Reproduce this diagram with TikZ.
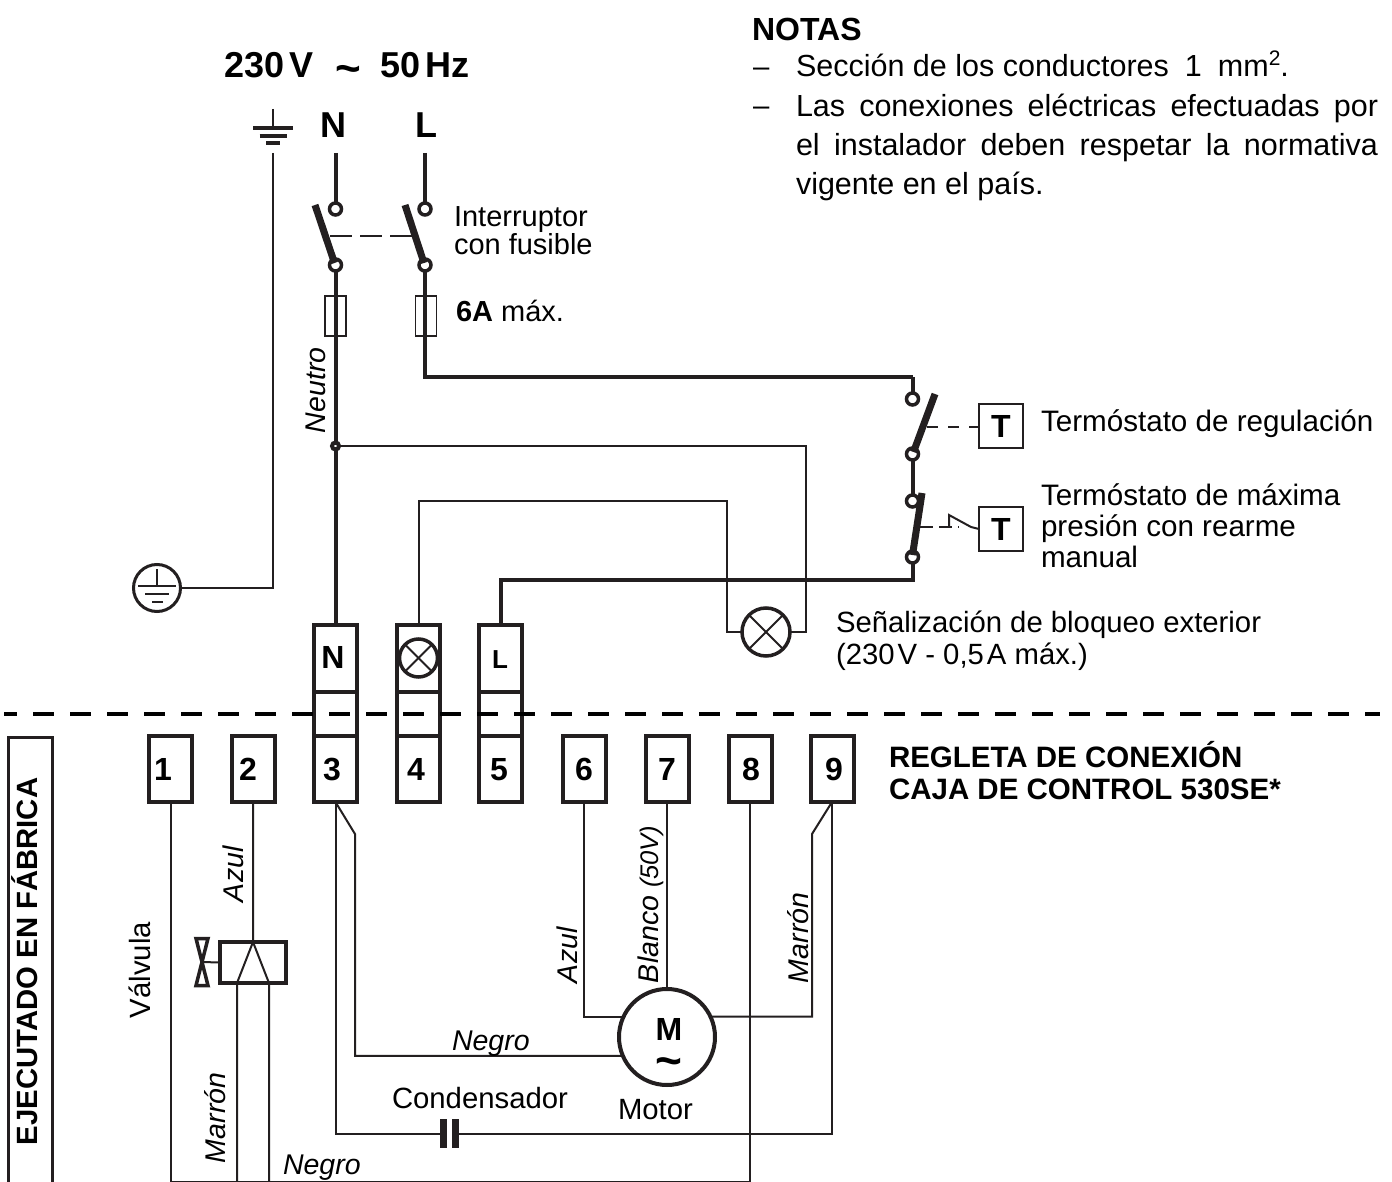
\documentclass[tikz,border=0pt]{standalone}
\usepackage{fontspec}
\setmainfont{Liberation Sans}
\usetikzlibrary{calc}
\definecolor{ink}{HTML}{231F20}
\tikzset{
	mainwire/.style={line width=4pt, color=ink},
	thinwire/.style={line width=2pt, color=ink},
	hairwire/.style={line width=1.8pt, color=ink},
	blade/.style={line width=7pt, color=ink},
	termbox/.style={draw=ink, line width=4pt, minimum width=43pt, minimum height=66pt, inner sep=0pt, outer sep=0pt},
	contact/.style={circle, draw=ink, fill=white, line width=3.5pt, minimum size=12pt, inner sep=0pt, outer sep=0pt},
	fuse/.style={draw=ink, line width=1.6pt, minimum width=21pt, minimum height=40pt, inner sep=0pt, outer sep=0pt},
	tbox/.style={draw=ink, line width=2pt, minimum size=44pt, inner sep=0pt, outer sep=0pt},
	lamp/.style={circle, draw=ink, line width=3.5pt, inner sep=0pt, outer sep=0pt, path picture={
		\draw[thinwire] (path picture bounding box.north west) -- (path picture bounding box.south east);
		\draw[thinwire] (path picture bounding box.north east) -- (path picture bounding box.south west);}},
	caplate/.style={fill=ink, minimum width=7pt, minimum height=29pt, inner sep=0pt, outer sep=0pt},
	txt/.style={inner sep=0pt, outer sep=0pt, anchor=base west, font=\fontsize{29.3}{31}\selectfont},
	boldtxt/.style={txt, font=\fontsize{29.5}{32}\selectfont\bfseries},
	bigtxt/.style={inner sep=0pt, outer sep=0pt, anchor=base, font=\fontsize{36}{38}\selectfont\bfseries},
	cabletxt/.style={txt, font=\fontsize{28.5}{31}\selectfont\itshape},
	digit/.style={inner sep=0pt, outer sep=0pt, anchor=base, font=\fontsize{32}{34}\selectfont\bfseries},
}
\begin{document}
\begin{tikzpicture}[x=1pt, y=-1pt]
	\useasboundingbox (0, 0) rectangle (1392, 1182);

	%%%%% supply %%%%%
	\node[bigtxt, anchor=base west] (supply) at (224, 78) {230\kern5pt V\hspace{22pt}\raisebox{-6pt}{\fontsize{44}{44}\selectfont\textasciitilde}\hspace{20pt}50\kern5pt Hz};
	\node[bigtxt] (labN) at (333.5, 138) {N};
	\node[bigtxt] (labL) at (426, 138) {L};

	%%%%% earth %%%%%
	\coordinate (earthtop) at (273, 109);
	\coordinate (earthbar) at (273, 128);
	\coordinate (earthwire) at (273, 153);
	\draw[line width=2.5pt, color=ink] (earthtop) -- (earthbar);
	\draw[line width=3.5pt, color=ink] ($(earthbar)+(-20, 0)$) -- ($(earthbar)+(20, 0)$);
	\draw[line width=3.5pt, color=ink] ($(earthbar)+(-13.5, 8)$) -- ($(earthbar)+(13.5, 8)$);
	\draw[line width=3.5pt, color=ink] ($(earthbar)+(-7, 15)$) -- ($(earthbar)+(7, 15)$);
	\node[circle, draw=ink, line width=3pt, minimum size=47pt, inner sep=0pt, outer sep=0pt] (pe) at (157, 588) {};
	\draw[hairwire] (157, 569) -- (157, 586);
	\draw[hairwire] (138, 586) -- (176, 586);
	\draw[hairwire] (145, 594) -- (169, 594);
	\draw[hairwire] (152, 602) -- (163, 602);
	\draw[thinwire] (earthwire) |- (pe.east);

	%%%%% terminals %%%%%
	\foreach \n/\xpos/\xtxt in {1/170.5/163, 2/253/248, 3/335.5/332, 4/418.5/416, 5/500.5/499, 6/584/584, 7/667/667, 8/750/751, 9/832/834} {
		\node[termbox] (t\n) at (\xpos, 769) {};
		\node[digit] (dig\n) at (\xtxt, 780) {\n};
	}
	\foreach \n/\xpos in {N/335.5, B/418.5, L/500.5} {
		\node[termbox, minimum height=67pt] (up\n) at (\xpos, 658.5) {};
		\node[termbox, minimum height=44pt] (mid\n) at (\xpos, 714) {};
	}
	\node[digit] (txtN) at (333, 668) {N};
	\node[digit, font=\fontsize{26}{28}\selectfont\bfseries] (txtL) at (500, 668) {L};
	\node[lamp, minimum size=38pt] (lampin) at (418.5, 658) {};

	%%%%% factory line %%%%%
	\coordinate (lineL) at (4, 714);
	\coordinate (lineR) at (1380, 714);
	\draw[line width=4pt, color=black, dash pattern=on 21pt off 16pt, dash phase=8pt] (lineL) -- (lineR);

	%%%%% main switch %%%%%
	\coordinate (ntop) at (335.5, 153);
	\coordinate (ltop) at (425, 153);
	\node[fuse] (fuseN) at (335.5, 316) {};
	\node[fuse] (fuseL) at (426, 316) {};
	\coordinate (bladeNtop) at (315, 205);
	\coordinate (bladeLtop) at (405, 205);
	\coordinate (linkN) at (330, 236);
	\coordinate (linkL) at (412, 236);
	\coordinate (cornerA) at (425, 377);
	\coordinate (cornerB) at (912.5, 377);
	\node[contact] (sNa) at (335.5, 209) {};
	\node[contact] (sNb) at (335.5, 265) {};
	\node[contact] (sLa) at (425, 209) {};
	\node[contact] (sLb) at (425, 265) {};
	\node[circle, draw=ink, fill=white, line width=4pt, minimum size=7pt, inner sep=0pt, outer sep=0pt] (jn) at (335.5, 446) {};
	\draw[mainwire] (ntop) -- (sNa);
	\draw[mainwire] (ltop) -- (sLa);
	\draw[mainwire] (sNb) -- (jn) -- (upN.north);
	\draw[mainwire] (sLb) -- (cornerA) -- (cornerB);
	\draw[blade] (bladeNtop) -- ($(sNb)+(-1, -2)$);
	\draw[blade] (bladeLtop) -- ($(sLb)+(-1, -2)$);
	\draw[thinwire, dash pattern=on 22pt off 8pt] (linkN) -- (linkL);

	%%%%% thermostats %%%%%
	\node[contact] (r1a) at (912.5, 399) {};
	\node[contact] (r1b) at (912.5, 454) {};
	\node[contact] (r2a) at (912.5, 501) {};
	\node[contact] (r2b) at (912.5, 557) {};
	\coordinate (cornerC) at (912.5, 580);
	\coordinate (cornerD) at (500.5, 580);
	\coordinate (blade1top) at (935, 394);
	\coordinate (blade2top) at (922, 493);
	\coordinate (link1) at (927, 427);
	\coordinate (link2) at (920, 527);
	\node[tbox] (tb1) at (1001, 426) {};
	\node[tbox] (tb2) at (1001, 529) {};
	\node[digit] (tt1) at (1001, 437) {T};
	\node[digit] (tt2) at (1001, 540) {T};
	\draw[mainwire] (cornerB) -- (r1a);
	\draw[mainwire] (r1b) -- (r2a);
	\draw[mainwire] (r2b) -- (cornerC) -- (cornerD) -- (upL.north);
	\draw[blade] (blade1top) -- ($(r1b)+(1, -2)$);
	\draw[blade] (blade2top) -- ($(r2b)+(0, -2)$);
	\draw[thinwire, dash pattern=on 11pt off 10pt] (link1) -- (link1 -| tb1.west);
	\draw[thinwire, dash pattern=on 13pt off 6pt] (link2) -- (959, 527);
	\draw[thinwire] (949, 527) -- (949, 515) -- (971, 527) -- (tb2.west);

	%%%%% signal lamp %%%%%
	\node[lamp, minimum size=48pt] (lampext) at (766, 632) {};
	\coordinate (lampA) at (806, 446);
	\coordinate (lampB) at (418.5, 501);
	\coordinate (lampC) at (727, 501);
	\draw[thinwire] (jn) -- (lampA) |- (lampext.east);
	\draw[thinwire] (upB.north) -- (lampB) -- (lampC) |- (lampext.west);

	%%%%% valve %%%%%
	\node[draw=ink, line width=4pt, minimum width=66pt, minimum height=41pt, inner sep=0pt, outer sep=0pt] (valve) at (253, 962.5) {};
	\coordinate (valveA) at (237, 983);
	\coordinate (valveB) at (269, 983);
	\coordinate (valveAbot) at (237, 1182);
	\coordinate (valveBbot) at (269, 1182);
	\coordinate (bowtie) at (202, 962);
	\draw[line width=3.5pt, color=ink] (196, 938.5) -- (208, 938.5) -- (196, 985.5) -- (208, 985.5) -- cycle;
	\draw[thinwire] (bowtie) -- (valve.west);
	\draw[thinwire] (t2.south) -- (valve.north) -- (valveA) -- (valveAbot);
	\draw[thinwire] (valve.north) -- (valveB) -- (valveBbot);

	%%%%% motor %%%%%
	\node[circle, draw=ink, line width=4pt, minimum size=96pt, inner sep=0pt, outer sep=0pt] (motor) at (667, 1037) {};
	\node[digit] (motM) at (669, 1040) {M};
	\node[inner sep=0pt, font=\fontsize{46}{46}\selectfont\bfseries] (motT) at (669, 1067) {\textasciitilde};
	\node[caplate] (capL) at (443.5, 1133.5) {};
	\node[caplate] (capR) at (455, 1133.5) {};
	\coordinate (bend3) at (355, 834);
	\coordinate (bend9) at (812, 834);
	\coordinate (bot8) at (750, 1182);
	\draw[thinwire] (t1.south) |- (bot8) -- (t8.south);
	\draw[thinwire] (t3.south) |- (capL.west);
	\draw[thinwire] (capR.east) -| (t9.south);
	\draw[thinwire] (t3.south) -- (bend3) |- (motor.203);
	\draw[thinwire] (t6.south) |- (motor.155);
	\draw[thinwire] (t7.south) -- (motor.north);
	\draw[thinwire] (t9.south) -- (bend9) |- (motor.25);

	%%%%% factory box %%%%%
	\coordinate (boxA) at (8, 1190);
	\coordinate (boxB) at (8, 737);
	\coordinate (boxC) at (52, 737);
	\coordinate (boxD) at (52, 1190);
	\draw[line width=3pt, color=ink] (boxA) -- (boxB) -- (boxC) -- (boxD);
	\node[boldtxt, font=\fontsize{29.3}{32}\selectfont\bfseries, rotate=90] (ejec) at (37.5, 1145) {EJECUTADO EN FÁBRICA};

	%%%%% texts %%%%%
	\node[boldtxt, font=\fontsize{32}{33}\selectfont\bfseries] (notas) at (752, 41) {NOTAS};
	\node[txt] (dash1) at (753, 77) {–};
	\node[txt] (dash2) at (753, 116) {–};
	\node[txt, font=\fontsize{30.5}{31}\selectfont] (nota1) at (796, 77) {Sección de los conductores\hspace{16pt}1\hspace{16pt}mm\raisebox{11pt}{\fontsize{21}{21}\selectfont 2}.};
	\node[txt, anchor=north west, text width=582pt, align=justify, font=\fontsize{30.5}{39}\selectfont] (nota2) at (796, 94) {Las conexiones eléctricas efectuadas por\linebreak el instalador deben respetar la normativa\linebreak vigente en el país.};
	\node[txt, anchor=north west, align=left, font=\fontsize{29}{28}\selectfont] (switchtxt) at (454, 207) {Interruptor\\con fusible};
	\node[txt, font=\fontsize{29}{31}\selectfont] (fusetxt) at (456, 321) {\textbf{6A} máx.};
	\node[txt, font=\fontsize{29.6}{31}\selectfont] (reg) at (1041, 431) {Termóstato de regulación};
	\node[txt, anchor=north west, align=left, font=\fontsize{29.6}{31}\selectfont] (maxp) at (1041, 484) {Termóstato de máxima\\presión con rearme\\manual};
	\node[txt, anchor=north west, align=left, font=\fontsize{29.3}{32}\selectfont] (senal) at (836, 611) {Señalización de bloqueo exterior\\(230\kern3pt V - 0,5\kern3pt A máx.)};
	\node[boldtxt, anchor=north west, align=left] (regleta) at (889, 741) {REGLETA DE CONEXIÓN\\CAJA DE CONTROL 530SE*};
	\node[txt, rotate=90] (valvula) at (150, 1018) {Válvula};
	\node[txt] (conden) at (392, 1108) {Condensador};
	\node[txt] (motortxt) at (618, 1119) {Motor};
	\node[cabletxt, rotate=90] (neutro) at (325, 433) {Neutro};
	\node[cabletxt, rotate=90] (azul2) at (243, 902) {Azul};
	\node[cabletxt, rotate=90] (marron2) at (225, 1163) {Marrón};
	\node[cabletxt, rotate=90] (azul6) at (577, 983) {Azul};
	\node[cabletxt, rotate=90] (blanco) at (658, 983) {Blanco {\fontsize{25.5}{26}\selectfont (50V)}};
	\node[cabletxt, rotate=90] (marron9) at (808, 983) {Marrón};
	\node[cabletxt] (negro3) at (452, 1050) {Negro};
	\node[cabletxt] (negro2) at (283, 1174) {Negro};
\end{tikzpicture}
\end{document}
